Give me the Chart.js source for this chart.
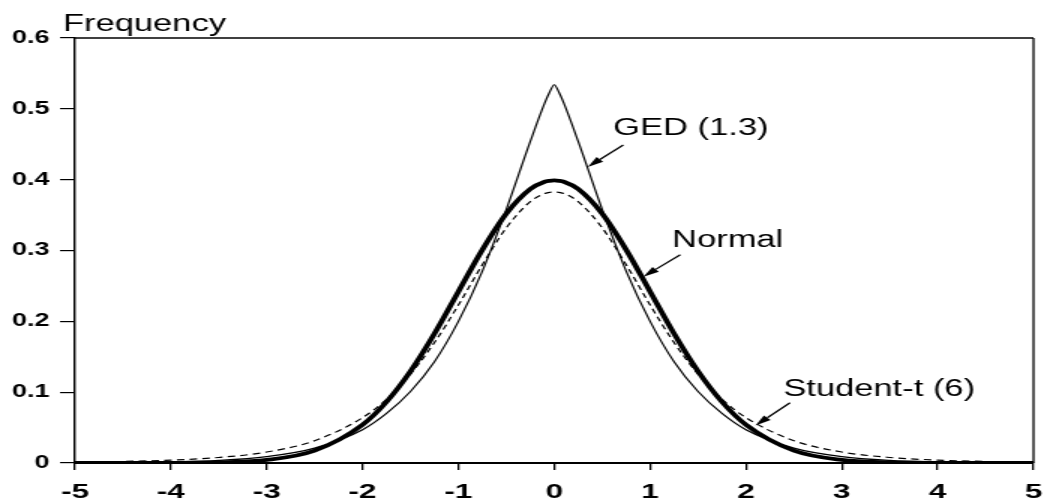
<!DOCTYPE html>
<html>
<head>
<meta charset="utf-8">
<title>Frequency</title>
<script src="https://cdn.jsdelivr.net/npm/chart.js@4.4.1/dist/chart.umd.min.js"></script>
<style>
  html, body { margin: 0; padding: 0; background: #fff; overflow: hidden; }
  canvas { display: block; }
</style>
</head>
<body>
<!-- the original figure is stretched sideways, so the canvas is drawn narrow and widened by css -->
<canvas id="chart" width="696" height="503" style="width:1044px;height:503px"></canvas>
<script>
const xValues = [-5, -4.5, -4, -3.5, -3, -2.5, -2, -1.75, -1.5, -1.25, -1, -0.75, -0.5, -0.25, -0.1, -0.05,
    0, 0.05, 0.1, 0.25, 0.5, 0.75, 1, 1.25, 1.5, 1.75, 2, 2.5, 3, 3.5, 4, 4.5, 5];

const normalValues = [0, 0, 0.0001, 0.0009, 0.0044, 0.0175, 0.054, 0.0863, 0.1295, 0.1826, 0.242, 0.3011, 0.352, 0.3867, 0.397, 0.3984,
    0.399, 0.3984, 0.397, 0.3867, 0.352, 0.3011, 0.242, 0.1826, 0.1295, 0.0863, 0.054, 0.0175, 0.0044, 0.0009, 0.0001, 0, 0];

const gedValues = [0.0002, 0.0005, 0.0014, 0.0036, 0.009, 0.021, 0.047, 0.070, 0.101, 0.143, 0.200, 0.271, 0.358, 0.454, 0.508, 0.523,
    0.534, 0.523, 0.508, 0.454, 0.358, 0.271, 0.200, 0.143, 0.101, 0.070, 0.047, 0.021, 0.009, 0.0036, 0.0014, 0.0005, 0.0002];

const studentValues = [0.0012, 0.0022, 0.0041, 0.0078, 0.0155, 0.0315, 0.064, 0.090, 0.1255, 0.170, 0.223, 0.280, 0.332, 0.369, 0.3805, 0.382,
    0.383, 0.382, 0.3805, 0.369, 0.332, 0.280, 0.223, 0.170, 0.1255, 0.090, 0.064, 0.0315, 0.0155, 0.0078, 0.0041, 0.0022, 0.0012];

const xTicks = [-5, -4, -3, -2, -1, 0, 1, 2, 3, 4, 5];
const yTicks = [0, 0.1, 0.2, 0.3, 0.4, 0.5, 0.6];

// text + arrow for each curve, in data units
const notes = [
    { text: 'GED (1.3)', x: 0.616, y: 0.472, fromX: 0.72, fromY: 0.449, toX: 0.35, toY: 0.418 },
    { text: 'Normal', x: 1.23, y: 0.314, fromX: 1.315, fromY: 0.294, toX: 0.93, toY: 0.263 },
    { text: 'Student-t (6)', x: 2.39, y: 0.103, fromX: 2.46, fromY: 0.085, toX: 2.10, toY: 0.053 }
];

const fontFamily = '"Liberation Sans", Arial, sans-serif';

function toPoints(values) {
    return xValues.map((x, i) => ({ x: x, y: values[i] }));
}

function drawArrow(ctx, x1, y1, x2, y2) {
    const ang = Math.atan2(y2 - y1, x2 - x1);
    const len = 11, half = 3.2;
    const bx = x2 - Math.cos(ang) * len;
    const by = y2 - Math.sin(ang) * len;
    ctx.beginPath();
    ctx.moveTo(x1, y1);
    ctx.lineTo(bx, by);
    ctx.stroke();
    ctx.beginPath();
    ctx.moveTo(x2, y2);
    ctx.lineTo(bx - Math.sin(ang) * half, by + Math.cos(ang) * half);
    ctx.lineTo(bx + Math.sin(ang) * half, by - Math.cos(ang) * half);
    ctx.closePath();
    ctx.fill();
}

const framePlugin = {
    id: 'frame',
    afterDraw(chart) {
        const { ctx, chartArea } = chart;
        ctx.save();
        ctx.strokeStyle = '#000';
        ctx.lineWidth = 1.6;
        ctx.beginPath();
        ctx.moveTo(chartArea.left, chartArea.top);
        ctx.lineTo(chartArea.right, chartArea.top);
        ctx.stroke();
        ctx.lineWidth = 1.3;
        ctx.beginPath();
        ctx.moveTo(chartArea.right, chartArea.top);
        ctx.lineTo(chartArea.right, chartArea.bottom);
        ctx.stroke();

        // axis title above the plot
        ctx.fillStyle = '#000';
        ctx.font = '23px ' + fontFamily;
        ctx.textAlign = 'left';
        ctx.textBaseline = 'alphabetic';
        ctx.fillText('Frequency', chartArea.left - 8, chartArea.top - 7);
        ctx.restore();
    }
};

const notesPlugin = {
    id: 'notes',
    afterDatasetsDraw(chart) {
        const { ctx } = chart;
        const xs = chart.scales.x;
        const ys = chart.scales.y;
        ctx.save();
        ctx.fillStyle = '#000';
        ctx.strokeStyle = '#000';
        ctx.lineWidth = 1.3;
        ctx.font = '23px ' + fontFamily;
        ctx.textAlign = 'left';
        ctx.textBaseline = 'middle';
        notes.forEach(n => {
            ctx.fillText(n.text, xs.getPixelForValue(n.x), ys.getPixelForValue(n.y));
            drawArrow(ctx,
                xs.getPixelForValue(n.fromX), ys.getPixelForValue(n.fromY),
                xs.getPixelForValue(n.toX), ys.getPixelForValue(n.toY));
        });
        ctx.restore();
    }
};

const ctx = document.getElementById('chart').getContext('2d');

new Chart(ctx, {
    type: 'line',
    data: {
        datasets: [
            {
                label: 'Student-t (6)',
                data: toPoints(studentValues),
                borderColor: '#000',
                borderWidth: 1.2,
                borderDash: [5, 3.5],
                pointRadius: 0,
                cubicInterpolationMode: 'monotone'
            },
            {
                label: 'GED (1.3)',
                data: toPoints(gedValues),
                borderColor: '#000',
                borderWidth: 1.2,
                pointRadius: 0,
                cubicInterpolationMode: 'monotone'
            },
            {
                label: 'Normal',
                data: toPoints(normalValues),
                borderColor: '#000',
                borderWidth: 3.8,
                pointRadius: 0,
                cubicInterpolationMode: 'monotone'
            }
        ]
    },
    options: {
        responsive: false,
        animation: false,
        layout: {
            padding: { top: 38, right: 7, left: 0, bottom: 0 }
        },
        plugins: {
            legend: { display: false },
            tooltip: { enabled: false }
        },
        scales: {
            x: {
                type: 'linear',
                min: -5,
                max: 5,
                afterBuildTicks: scale => { scale.ticks = xTicks.map(v => ({ value: v })); },
                afterFit: scale => {
                    scale.height = 40;
                    scale.paddingLeft = 0;
                    scale.paddingRight = 0;
                },
                grid: {
                    drawOnChartArea: false,
                    color: '#000',
                    lineWidth: 1.3,
                    tickLength: 7
                },
                border: { color: '#000', width: 2 },
                ticks: {
                    color: '#000',
                    padding: 10,
                    maxRotation: 0,
                    autoSkip: false,
                    font: { family: fontFamily, size: 21, weight: 'bold' }
                }
            },
            y: {
                type: 'linear',
                min: 0,
                max: 0.6,
                afterBuildTicks: scale => { scale.ticks = yTicks.map(v => ({ value: v })); },
                afterFit: scale => {
                    scale.width = 50;
                    scale.paddingTop = 0;
                    scale.paddingBottom = 0;
                },
                grid: {
                    drawOnChartArea: false,
                    color: '#000',
                    lineWidth: 1.2,
                    tickLength: 10
                },
                border: { color: '#000', width: 1.4 },
                ticks: {
                    color: '#000',
                    padding: 7,
                    autoSkip: false,
                    font: { family: fontFamily, size: 18, weight: 'bold' },
                    callback: value => value === 0 ? '0' : value.toFixed(1)
                }
            }
        }
    },
    plugins: [framePlugin, notesPlugin]
});
</script>
</body>
</html>
